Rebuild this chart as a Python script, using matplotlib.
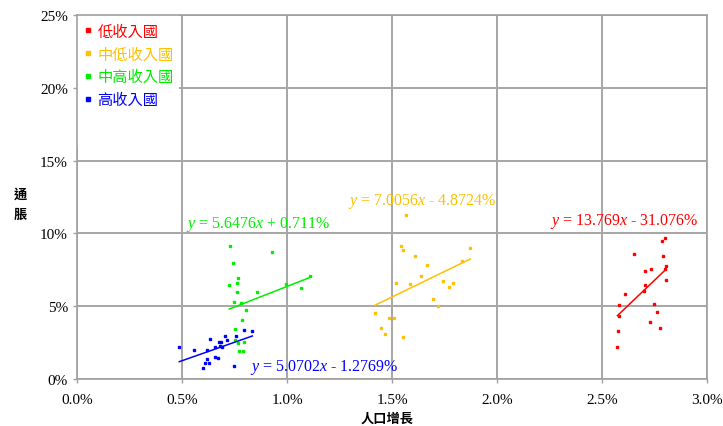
import numpy as np
import matplotlib
matplotlib.use('Agg')
import matplotlib.pyplot as plt
from matplotlib.patches import Rectangle
from matplotlib.ticker import FuncFormatter

plt.rcParams['font.family'] = ['Liberation Serif', 'Noto Sans CJK TC']
plt.rcParams['mathtext.fontset'] = 'custom'
plt.rcParams['mathtext.rm'] = 'Liberation Serif'
plt.rcParams['mathtext.it'] = 'Liberation Serif:italic'

# population growth (%) and inflation (%) by income group
low_x = [2.798, 2.786, 2.651, 2.792, 2.803, 2.800, 2.732, 2.705, 2.803, 2.702,
         2.700, 2.611, 2.582, 2.749, 2.760, 2.581, 2.730, 2.778, 2.578, 2.573]
low_y = [9.71, 9.50, 8.56, 8.43, 7.74, 7.58, 7.53, 7.40, 6.78, 6.43,
         6.02, 5.81, 5.06, 5.13, 4.60, 4.33, 3.89, 3.52, 3.27, 2.20]

lmid_x = [1.567, 1.544, 1.554, 1.610, 1.667, 1.638, 1.873, 1.832, 1.521, 1.584, 1.744,
          1.792, 1.770, 1.694, 1.721, 1.419, 1.487, 1.510, 1.446, 1.468, 1.554]
lmid_y = [11.29, 9.11, 8.84, 8.47, 7.83, 7.05, 9.00, 8.13, 6.59, 6.55, 6.71,
          6.57, 6.29, 5.49, 5.01, 4.56, 4.17, 4.21, 3.52, 3.07, 2.88]

umid_x = [0.730, 0.929, 0.744, 0.767, 0.762, 0.725, 0.763, 0.857, 0.994, 0.749, 0.782,
          0.803, 0.784, 0.754, 0.754, 0.794, 0.767, 0.771, 0.790, 1.065, 1.110]
umid_y = [9.11, 8.74, 7.97, 6.91, 6.59, 6.43, 5.98, 5.98, 6.55, 5.29, 5.20,
          4.71, 4.03, 3.41, 2.70, 2.56, 2.45, 1.95, 1.90, 6.25, 7.10]

high_x = [0.487, 0.557, 0.617, 0.632, 0.657, 0.678, 0.684, 0.680, 0.690, 0.705, 0.714,
          0.759, 0.795, 0.835, 0.619, 0.610, 0.602, 0.629, 0.656, 0.673, 0.746]
high_y = [2.22, 1.96, 1.96, 2.75, 2.17, 2.56, 2.56, 2.24, 2.22, 2.93, 2.70,
          2.95, 3.37, 3.30, 1.37, 1.10, 0.78, 1.10, 1.49, 1.42, 0.87]

labels = ['低收入國', '中低收入國', '中高收入國', '高收入國']
colors = ['#ff0000', '#ffc000', '#00ee00', '#0000ff']
slopes = [13.769, 7.0056, 5.6476, 5.0702]
intercepts = [-31.076, -4.8724, 0.711, -1.2769]
eq_text = [r'$y$ = 13.769$x$ - 31.076%', r'$y$ = 7.0056$x$ - 4.8724%',
           r'$y$ = 5.6476$x$ + 0.711%', r'$y$ = 5.0702$x$ - 1.2769%']
eq_pos = [(2.252, 10.92), (1.292, 12.26), (0.519, 10.71), (0.824, 0.86)]

fig = plt.figure(figsize=(7.23, 4.27), dpi=100)
ax = fig.add_axes([0.1065, 0.110, 0.8715, 0.8525])

xs = [low_x, lmid_x, umid_x, high_x]
ys = [low_y, lmid_y, umid_y, high_y]
for x, y, c, lab, m, b, t, p in zip(xs, ys, colors, labels, slopes, intercepts, eq_text, eq_pos):
    ax.plot(x, y, 's', color=c, markersize=1.7, linestyle='', label=lab, zorder=3)
    fx = np.array([min(x), max(x)])
    ax.plot(fx, m * fx + b, color=c, linewidth=1.1, zorder=3)
    ax.text(p[0], p[1], t, color=c, fontsize=11.5, ha='left', va='center')

ax.set_xlim(0, 3)
ax.set_ylim(0, 25)
ax.set_xticks(np.arange(0, 3.01, 0.5))
ax.set_yticks(np.arange(0, 25.1, 5))
ax.xaxis.set_major_formatter(FuncFormatter(lambda v, _: '%.1f%%' % v))
ax.yaxis.set_major_formatter(FuncFormatter(lambda v, _: '%d%%' % v))
ax.tick_params(labelsize=11, color='#a0a0a0', length=3, width=1)
ax.tick_params(axis='x', pad=7)
ax.set_axisbelow(True)
ax.grid(True, color='#a6a6a6', linewidth=1.4)
for s in ax.spines.values():
    s.set_color('#a0a0a0')
    s.set_linewidth(1.2)

# white area behind the legend hides the grid
ax.add_patch(Rectangle((0, 15.9), 0.485, 9.1, facecolor='white', edgecolor='none', zorder=1))
leg = ax.legend(loc='upper left', bbox_to_anchor=(0.0, 1.0), frameon=False,
                prop={'family': 'Noto Sans CJK TC', 'size': 11}, handlelength=0.4,
                handletextpad=0.45, labelspacing=0.38, borderaxespad=0.1, markerscale=1.3)
for txt, c in zip(leg.get_texts(), colors):
    txt.set_color(c)

fig.text(0.535, 0.003, '人口增長', family='Noto Sans CJK TC', fontsize=9.5,
         fontweight='bold', ha='center', va='bottom')
fig.text(0.028, 0.52, '通\n脹', family='Noto Sans CJK TC', fontsize=9.5,
         fontweight='bold', ha='center', va='center', linespacing=1.5)

fig.savefig('out.png', dpi=100)
